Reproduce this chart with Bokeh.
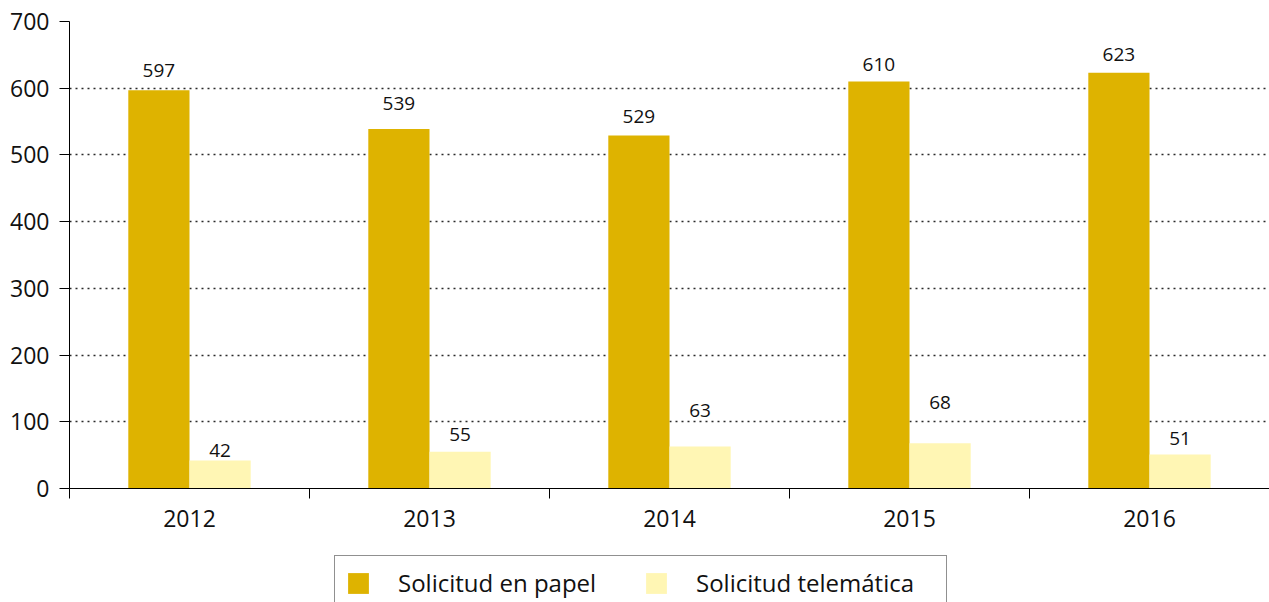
from bokeh.plotting import figure
from bokeh.models import (ColumnDataSource, Range1d, FixedTicker, Legend, LegendItem)
from bokeh.layouts import column
from bokeh.transform import dodge
from bokeh.core.properties import value
from bokeh.embed import file_html
from bokeh.resources import INLINE

# ---- data ----
years = ["2012", "2013", "2014", "2015", "2016"]
papel = [597, 539, 529, 610, 623]
telematica = [42, 55, 63, 68, 51]
series_names = ["Solicitud en papel", "Solicitud telemática"]
y_ticks = [0, 100, 200, 300, 400, 500, 600, 700]

# label lift above bar top (pixels)
papel_lift = [20, 25, 19, 17, 18]
tele_lift = [10, 17, 36, 41, 16]

GOLD = "#DEB300"
PALE = "#FFF6B4"
FONT = "Open Sans"

xc = [i + 0.5 for i in range(len(years))]
src = ColumnDataSource(dict(
    x=xc,
    papel=papel,
    tele=telematica,
    papel_txt=[str(v) for v in papel],
    tele_txt=[str(v) for v in telematica],
    papel_off=[-v for v in papel_lift],
    tele_off=[-v for v in tele_lift],
))

p = figure(width=1269, height=553, output_backend="svg", toolbar_location=None,
           x_range=Range1d(0, len(years)), y_range=Range1d(0, 700),
           min_border_left=69, min_border_top=21, min_border_right=0,
           min_border_bottom=65)
p.outline_line_color = None
p.background_fill_color = "white"
p.border_fill_color = "white"

BW = 0.255
p.vbar(x=dodge("x", -BW / 2, range=p.x_range), top="papel", width=BW,
       source=src, fill_color=GOLD, line_color=None)
p.vbar(x=dodge("x", BW / 2, range=p.x_range), top="tele", width=BW,
       source=src, fill_color=PALE, line_color=None)

p.text(x=dodge("x", -BW / 2, range=p.x_range), y="papel", text="papel_txt",
       y_offset="papel_off", source=src, text_align="center",
       text_baseline="alphabetic", text_font=value(FONT),
       text_font_size="19px", text_color="#111111")
p.text(x=dodge("x", BW / 2, range=p.x_range), y="tele", text="tele_txt",
       y_offset="tele_off", source=src, text_align="center",
       text_baseline="alphabetic", text_font=value(FONT),
       text_font_size="19px", text_color="#111111")

# grid
p.xgrid.grid_line_color = None
p.ygrid.ticker = FixedTicker(ticks=y_ticks)
p.ygrid.grid_line_color = "#2a2a2a"
p.ygrid.grid_line_dash = "2 4"
p.ygrid.grid_line_width = 1.4

# y axis
ya = p.yaxis[0]
ya.ticker = FixedTicker(ticks=y_ticks)
ya.major_tick_out = 10
ya.major_tick_in = 0
ya.minor_tick_line_color = None
ya.axis_line_color = "black"
ya.major_tick_line_color = "black"
ya.major_label_standoff = 10
ya.major_label_text_font = FONT
ya.major_label_text_font_size = "23px"
ya.major_label_text_color = "#111111"

# x axis: labels at centres, ticks at category boundaries
xa = p.xaxis[0]
xa.ticker = FixedTicker(ticks=xc, minor_ticks=list(range(len(years) + 1)))
xa.major_label_overrides = {x: y for x, y in zip(xc, years)}
xa.major_tick_line_color = None
xa.major_tick_out = 0
xa.major_tick_in = 0
xa.minor_tick_out = 10
xa.minor_tick_in = 0
xa.minor_tick_line_color = "black"
xa.axis_line_color = "black"
xa.major_label_standoff = 11
xa.major_label_text_font = FONT
xa.major_label_text_font_size = "23px"
xa.major_label_text_color = "#111111"

# ---- legend strip below the chart ----
# the key renderers use the same data but lie well outside this strip's view
lg = figure(width=1269, height=49, output_backend="svg", toolbar_location=None,
            x_range=Range1d(-20, -15), y_range=Range1d(-20, -10),
            x_axis_location=None, y_axis_location=None,
            min_border_left=0, min_border_right=0, min_border_top=0,
            min_border_bottom=0)
lg.outline_line_color = None
lg.xgrid.visible = False
lg.ygrid.visible = False
lg.background_fill_color = "white"
lg.border_fill_color = "white"
k1 = lg.vbar(x="x", top="papel", width=BW, source=src,
             fill_color=GOLD, line_color=None)
k2 = lg.vbar(x="x", top="tele", width=BW, source=src,
             fill_color=PALE, line_color=None)

legend = Legend(items=[LegendItem(label=series_names[0], renderers=[k1]),
                       LegendItem(label=series_names[1], renderers=[k2])],
                orientation="horizontal", location=(265, -8),
                glyph_width=26, glyph_height=26, label_standoff=27,
                label_width=240, spacing=5, padding=10, margin=0,
                border_line_color="#222222", border_line_width=1,
                label_text_font=FONT, label_text_font_size="24px",
                label_text_color="#111111", background_fill_alpha=1)
lg.add_layout(legend, "center")

open("out.html", "w").write(file_html(column(p, lg, spacing=0), INLINE))
